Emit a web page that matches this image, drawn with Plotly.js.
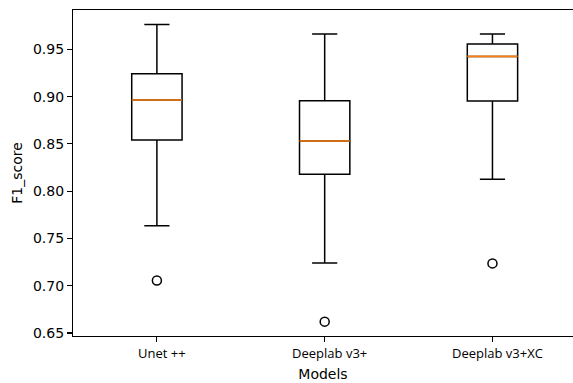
<!DOCTYPE html>
<html>
<head>
<meta charset="utf-8">
<script src="https://cdn.plot.ly/plotly-3.0.1.min.js"></script>
<style>html,body{margin:0;padding:0;background:#fff;}#chart{width:573px;height:383px;}</style>
</head>
<body>
<div id="chart"></div>
<script>
const models = ["Unet ++", "Deeplab v3+", "Deeplab v3+XC"];
const positions = [1, 2, 3];
const upperWhisker = [0.9764, 0.9662, 0.9662];
const q3 = [0.9243, 0.8958, 0.9556];
const median = [0.8965, 0.8531, 0.9426];
const q1 = [0.8542, 0.8180, 0.8954];
const lowerWhisker = [0.7634, 0.7239, 0.8127];
const outliers = [0.7056, 0.6620, 0.7236];
const yTicks = [0.65, 0.70, 0.75, 0.80, 0.85, 0.90, 0.95];

const BOX_W = 0.3;
const medX = [], medY = [];
positions.forEach((p, i) => {
  medX.push(p - BOX_W / 2, p + BOX_W / 2, null);
  medY.push(median[i], median[i], null);
});

const data = [
  {
    type: 'box',
    x: positions,
    q1: q1, median: median, q3: q3,
    lowerfence: lowerWhisker, upperfence: upperWhisker,
    width: BOX_W,
    whiskerwidth: 0.5,
    boxpoints: false,
    fillcolor: 'rgba(255,255,255,0)',
    line: {color: '#000000', width: 1.5},
    hoverinfo: 'skip',
    showlegend: false
  },
  {
    type: 'scatter', mode: 'lines',
    x: medX, y: medY,
    line: {color: '#ff7f0e', width: 1.6},
    hoverinfo: 'skip', showlegend: false
  },
  {
    type: 'scatter', mode: 'markers',
    x: positions, y: outliers,
    marker: {symbol: 'circle-open', size: 9, color: '#000000', line: {width: 1.5, color: '#000000'}},
    hoverinfo: 'skip', showlegend: false
  }
];

const layout = {
  width: 573, height: 383,
  margin: {l: 73, r: 0, t: 10, b: 47},
  paper_bgcolor: '#ffffff', plot_bgcolor: '#ffffff',
  showlegend: false,
  xaxis: {
    range: [0.5, 3.48],
    tickmode: 'array', tickvals: positions, ticktext: models,
    ticks: 'outside', ticklen: 5, tickwidth: 1.1, tickcolor: '#000',
    showline: true, mirror: true, linecolor: '#000', linewidth: 1.1,
    showgrid: false, zeroline: false,
    ticklabelshift: 5,
    tickfont: {family: 'Open Sans', size: 13, color: '#000'},
    title: {text: 'Models', font: {family: 'DejaVu Sans', size: 14, color: '#000'}, standoff: 8}
  },
  yaxis: {
    range: [0.6468, 0.9917],
    tickmode: 'array', tickvals: yTicks, ticktext: yTicks.map(v => v.toFixed(2)),
    ticks: 'outside', ticklen: 5, tickwidth: 1.1, tickcolor: '#000',
    showline: true, mirror: false, linecolor: '#000', linewidth: 1.1,
    showgrid: false, zeroline: false,
    tickfont: {family: 'DejaVu Sans', size: 14, color: '#000'},
    title: {text: 'F1_score', font: {family: 'DejaVu Sans', size: 14, color: '#000'}, standoff: 7}
  }
};

Plotly.newPlot('chart', data, layout, {displayModeBar: false, staticPlot: true});
</script>
</body>
</html>
